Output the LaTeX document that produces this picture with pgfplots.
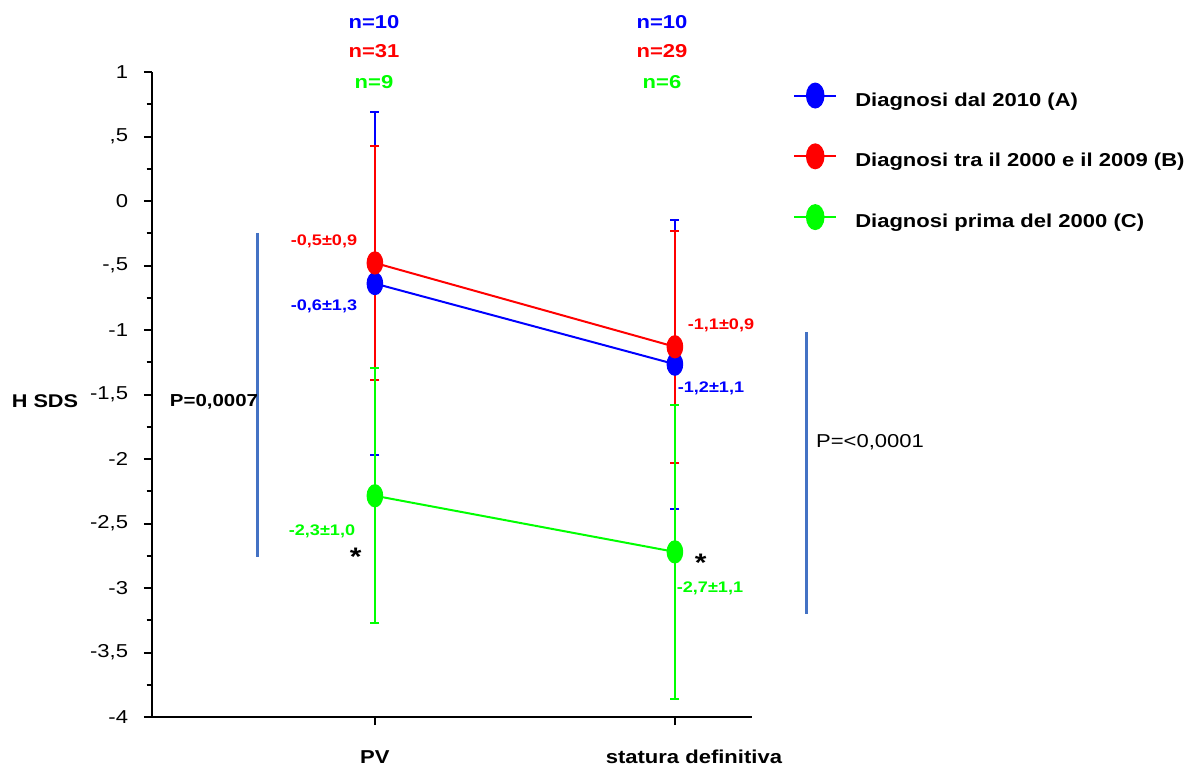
\documentclass[border=0pt]{standalone}
\usepackage{fontspec}
\setmainfont{Liberation Sans}[FakeStretch=1.18]
\usepackage{pgfplots}
\pgfplotsset{compat=1.18}
\definecolor{pblue}{RGB}{68,114,196}
\definecolor{cblue}{RGB}{0,0,255}
\definecolor{cred}{RGB}{255,0,0}
\definecolor{cgreen}{RGB}{0,255,0}
\begin{document}
\begin{tikzpicture}[
  lab/.style={inner sep=0pt, text height=0.716em, text depth=0pt, font=\fontsize{14}{16}\selectfont\bfseries},
  val/.style={inner sep=0pt, text height=0.716em, text depth=0pt, font=\fontsize{11.5}{13}\selectfont\bfseries}]
\path[use as bounding box] (-114pt,-39pt) rectangle (786pt,537.75pt);
\begin{axis}[
  scale only axis, width=450pt, height=483.75pt,
  xmin=0.257, xmax=2.257, ymin=-4, ymax=1,
  clip=false,
  axis x line*=bottom, axis y line*=left,
  axis line style={black, line width=2pt, -},
  xtick={1,2}, xticklabels={PV, {\hspace*{28.5pt}statura definitiva}},
  ytick={-4,-3.5,-3,-2.5,-2,-1.5,-1,-0.5,0,0.5,1},
  yticklabels={-4,{-3,5},-3,{-2,5},-2,{-1,5},-1,{-,5},0,{,5},1},
  minor y tick num=1,
  tick align=outside, major tick length=6pt, minor tick length=4pt,
  tick style={black, line width=1.5pt},
  xticklabel style={anchor=center, inner sep=0pt, text height=0.716em, text depth=0pt,
    font=\fontsize{14}{16}\selectfont\bfseries, yshift=-25.5pt},
  yticklabel style={anchor=east, inner sep=0pt, font=\fontsize{14}{16}\selectfont, xshift=-11.75pt},
  legend cell align=left,
  legend style={draw=none, fill=none, at={(1.0683,0.9825)}, anchor=north west,
    inner sep=0pt, row sep=25.6pt,
    nodes={inner sep=0pt, text height=10pt, text depth=3pt},
    font=\fontsize{14}{16}\selectfont\bfseries,
    /tikz/every odd column/.append style={column sep=13.5pt}},
  legend image code/.code={\draw[#1, mark repeat=2, mark phase=2, mark size=6.2pt] plot coordinates {(0pt,4.5pt) (15.75pt,4.5pt) (31.5pt,4.5pt)};},
  every axis plot/.append style={line width=1.5pt, mark=*, mark size=5.5pt,
    mark options={solid, yscale=1.45},
    error bars/y dir=both, error bars/y explicit,
    error bars/error bar style={line width=1.5pt},
    error bars/error mark options={rotate=90, mark size=3.4pt, line width=1.5pt}},
]
\addplot[cblue] coordinates {(1,-0.64) +- (0,1.33) (2,-1.265) +- (0,1.12)};
\addlegendentry{Diagnosi dal 2010 (A)}
\addplot[cred] coordinates {(1,-0.48) +- (0,0.91) (2,-1.13) +- (0,0.90)};
\addlegendentry{Diagnosi tra il 2000 e il 2009 (B)}
\addplot[cgreen] coordinates {(1,-2.285) +- (0,0.99) (2,-2.72) +- (0,1.14)};
\addlegendentry{Diagnosi prima del 2000 (C)}
\end{axis}
% n labels
\node[lab, text=cblue] at (166.5pt,519.75pt) {n=10};
\node[lab, text=cred] at (166.5pt,498pt) {n=31};
\node[lab, text=cgreen] at (166.5pt,474.75pt) {n=9};
\node[lab, text=cblue] at (382.5pt,519.75pt) {n=10};
\node[lab, text=cred] at (382.5pt,498pt) {n=29};
\node[lab, text=cgreen] at (382.5pt,474.75pt) {n=6};
% value labels
\node[val, text=cred] at (129pt,357.2pt) {-0,5±0,9};
\node[val, text=cblue] at (129pt,308.25pt) {-0,6±1,3};
\node[val, text=cgreen] at (127.5pt,139.7pt) {-2,3±1,0};
\node[val, text=cred] at (426.75pt,294pt) {-1,1±0,9};
\node[val, text=cblue] at (419.25pt,246.75pt) {-1,2±1,1};
\node[val, text=cgreen] at (418.5pt,96.75pt) {-2,7±1,1};
\node[lab, font=\fontsize{19}{20}\selectfont\bfseries] at (152.8pt,117pt) {*};
\node[lab, font=\fontsize{19}{20}\selectfont\bfseries] at (411.5pt,112.5pt) {*};
% significance
\draw[pblue, line width=2.25pt] (79.3pt,363pt) -- (79.3pt,120pt);
\draw[pblue, line width=2.25pt] (490.5pt,288.75pt) -- (490.5pt,77.25pt);
\node[lab, font=\fontsize{13}{15}\selectfont\bfseries] at (46.5pt,236.25pt) {P=0,0007};
\node[lab, font=\fontsize{14}{16}\selectfont] at (538.5pt,205.5pt) {P=<0,0001};
\node[lab, font=\fontsize{13.8}{16}\selectfont\bfseries] at (-80.25pt,235.5pt) {H SDS};
\end{tikzpicture}
\end{document}
